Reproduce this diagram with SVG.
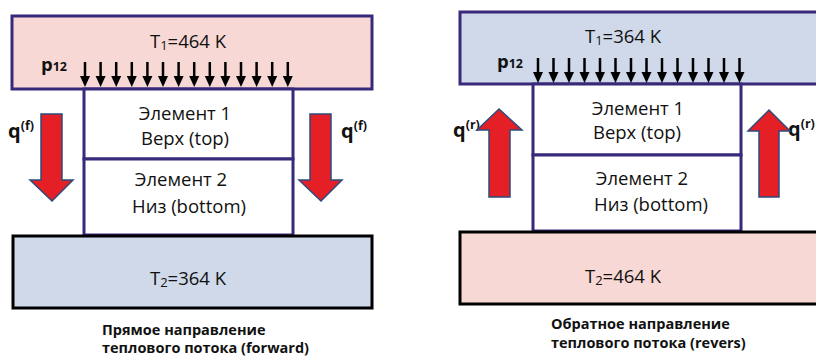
<svg xmlns="http://www.w3.org/2000/svg" width="816" height="356" viewBox="0 0 816 356">
<style>
.pink{fill:#f8d8d4;stroke:#38297a;stroke-width:3}
.blue{fill:#cfd9e9;stroke:#38297a;stroke-width:3}
.pinkb{fill:#f8d8d4;stroke:#000;stroke-width:3}
.blueb{fill:#cfd9e9;stroke:#000;stroke-width:3}
.elem{fill:#fff;stroke:#38297a;stroke-width:3}
.t{font-family:"Open Sans","Noto Sans",sans-serif;font-size:18.5px;fill:#111;text-anchor:middle}
.b{font-family:"Open Sans","Noto Sans",sans-serif;font-weight:bold;fill:#111}
.cap{font-family:"Open Sans","Noto Sans",sans-serif;font-weight:bold;font-size:14.5px;fill:#111}
.red{fill:#e41f26;stroke:#2d4b7c;stroke-width:1.5;stroke-linejoin:miter}
.pa{stroke:#000;stroke-width:2.5;fill:none}
</style>
<defs>
<g id="parr"><line x1="0" y1="0" x2="0" y2="15" class="pa"/><path d="M-5,14 L5,14 L0,25 Z" fill="#000"/></g>
</defs>

<!-- LEFT PANEL -->
<g id="left-top">
<rect x="12" y="16" width="360" height="73" class="pink"/>
<text x="188" y="48" class="t">T<tspan font-size="13" dy="2">1</tspan><tspan dy="-2">=464 K</tspan></text>
<text x="41" y="71" class="b" font-size="18.5">p<tspan font-size="12.5">12</tspan></text>
</g>
<g id="left-elem1">
<rect x="84" y="89" width="209" height="70" class="elem"/>
<text x="185" y="120" class="t">Элемент 1</text>
<text x="185" y="145" class="t">Верх (top)</text>
</g>
<g id="left-elem2">
<rect x="84" y="159" width="209" height="76" class="elem"/>
<text x="181" y="186" class="t">Элемент 2</text>
<text x="189" y="213" class="t">Низ (bottom)</text>
</g>
<g id="left-bottom">
<rect x="13" y="236" width="359" height="72" class="blueb"/>
<text x="188" y="285" class="t">T<tspan font-size="13" dy="2">2</tspan><tspan dy="-2">=364 K</tspan></text>
</g>
<g id="left-caption">
<text x="102" y="335" class="cap">Прямое направление</text>
<text x="102" y="353" class="cap">теплового потока (forward)</text>
</g>
<g id="left-q">
<text x="8" y="138" class="b" font-size="20">q<tspan font-size="12.5" dy="-8">(f)</tspan></text>
<text x="341" y="138" class="b" font-size="20">q<tspan font-size="12.5" dy="-8">(f)</tspan></text>
</g>

<!-- RIGHT PANEL -->
<g id="right-top">
<rect x="460" y="12" width="362" height="72" class="blue"/>
<text x="623" y="43" class="t">T<tspan font-size="13" dy="2">1</tspan><tspan dy="-2">=364 K</tspan></text>
<text x="497" y="68" class="b" font-size="18.5">p<tspan font-size="12.5">12</tspan></text>
</g>
<g id="right-elem1">
<rect x="533" y="84" width="208" height="71" class="elem"/>
<text x="638" y="115" class="t">Элемент 1</text>
<text x="637" y="139" class="t">Верх (top)</text>
</g>
<g id="right-elem2">
<rect x="533" y="155" width="208" height="76" class="elem"/>
<text x="642" y="185" class="t">Элемент 2</text>
<text x="651" y="211" class="t">Низ (bottom)</text>
</g>
<g id="right-bottom">
<rect x="460" y="232" width="362" height="72" class="pinkb"/>
<text x="623" y="283" class="t">T<tspan font-size="13" dy="2">2</tspan><tspan dy="-2">=464 K</tspan></text>
</g>
<g id="right-caption">
<text x="551" y="329" class="cap">Обратное направление</text>
<text x="551" y="348" class="cap">теплового потока (revers)</text>
</g>
<g id="right-q">
<text x="453" y="137" class="b" font-size="20">q<tspan font-size="12.5" dy="-8">(r)</tspan></text>
<text x="788" y="136" class="b" font-size="20">q<tspan font-size="12.5" dy="-8">(r)</tspan></text>
</g>

<!-- CONNECTORS / ARROWS -->
<g id="connectors">
<g id="left-pressure">
<use href="#parr" x="85" y="62"/><use href="#parr" x="100.6" y="62"/><use href="#parr" x="116.2" y="62"/><use href="#parr" x="131.8" y="62"/><use href="#parr" x="147.4" y="62"/><use href="#parr" x="163" y="62"/><use href="#parr" x="178.6" y="62"/><use href="#parr" x="194.2" y="62"/><use href="#parr" x="209.8" y="62"/><use href="#parr" x="225.4" y="62"/><use href="#parr" x="241" y="62"/><use href="#parr" x="256.6" y="62"/><use href="#parr" x="272.2" y="62"/><use href="#parr" x="287.8" y="62"/>
</g>
<g id="right-pressure">
<use href="#parr" x="538" y="58"/><use href="#parr" x="553.5" y="58"/><use href="#parr" x="569" y="58"/><use href="#parr" x="584.5" y="58"/><use href="#parr" x="600" y="58"/><use href="#parr" x="615.5" y="58"/><use href="#parr" x="631" y="58"/><use href="#parr" x="646.5" y="58"/><use href="#parr" x="662" y="58"/><use href="#parr" x="677.5" y="58"/><use href="#parr" x="693" y="58"/><use href="#parr" x="708.5" y="58"/><use href="#parr" x="724" y="58"/><use href="#parr" x="739.5" y="58"/>
</g>
<polygon class="red" points="41,114 62,114 62,180 73,180 52,201 30,180 41,180"/>
<polygon class="red" points="310,114 331,114 331,180 342,180 321,201 299,180 310,180"/>
<polygon class="red" points="489,197 510,197 510,130 522,130 499,109 477,130 489,130"/>
<polygon class="red" points="759,197 779,197 779,131 790,131 769,110 748,131 759,131"/>
</g>
</svg>
